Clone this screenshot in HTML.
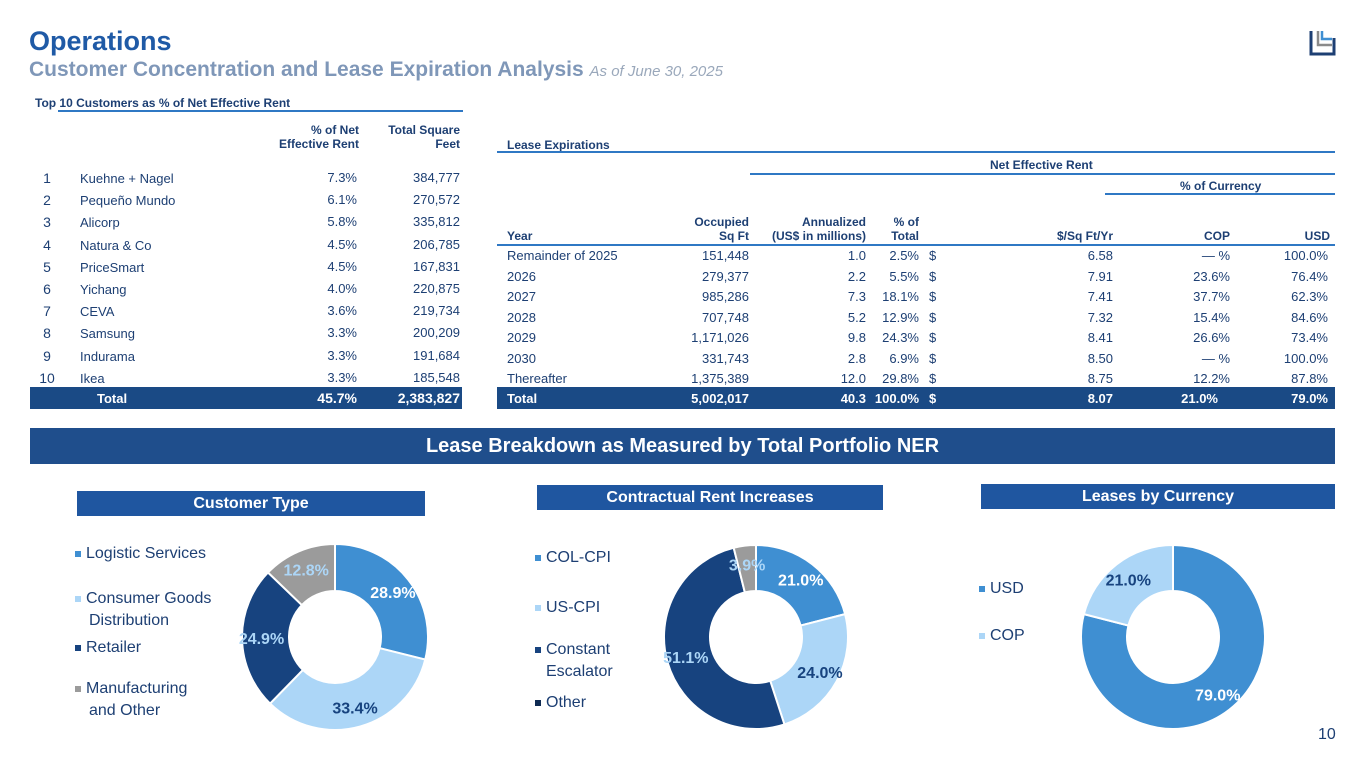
<!DOCTYPE html>
<html><head><meta charset="utf-8"><style>
*{margin:0;padding:0;box-sizing:border-box}
body{width:1365px;height:768px;background:#fff;position:relative;overflow:hidden;font-family:"Liberation Sans",Arial,sans-serif;color:#1d3f73}
.a{position:absolute;white-space:nowrap}
.r{text-align:right}
.t{font-size:13px;color:#1d3f73}
.h{font-size:12px;font-weight:bold;color:#1d3f73;line-height:14px}
.ln{position:absolute;height:2px;background:#2f78c4}
.bar{position:absolute;background:#1a4a85}
.w{color:#fff;font-weight:bold}
.sub{position:absolute;background:#1f56a0;color:#fff;font-weight:bold;font-size:16px;text-align:center;line-height:25px}
.lg{font-size:16px;color:#1d3f73;line-height:22px}
.sq{display:inline-block;width:6px;height:6px;margin-right:5px;vertical-align:middle}
</style></head><body>
<div class="a" style="left:29px;top:26px;font-size:27px;font-weight:bold;color:#1f5aa6">Operations</div>
<div class="a" style="left:29px;top:58px;font-size:21px;font-weight:bold;color:#7f97b8">Customer Concentration and Lease Expiration Analysis <span style="font-size:15px;font-style:italic;font-weight:normal;color:#9aa8bb">As of June 30, 2025</span></div>
<svg class="a" style="left:1308px;top:27px" width="30" height="30"><path d="M3 4v23h23V11" fill="none" stroke="#1d3f73" stroke-width="3"/><path d="M10 4v14h14" fill="none" stroke="#8a8a8a" stroke-width="2.5"/><path d="M14 4v8h10" fill="none" stroke="#3f8fd2" stroke-width="2.5"/></svg>

<!-- Top 10 customers table -->
<div>
<div class="a h" style="left:35px;top:96px">Top 10 Customers as % of Net Effective Rent</div>
<div class="ln" style="left:58px;top:110px;width:405px"></div>
<div class="a h r" style="left:250px;top:123px;width:109px">% of Net<br>Effective Rent</div>
<div class="a h r" style="left:360px;top:123px;width:100px">Total Square<br>Feet</div>
<div id="custRows"></div>
<div class="bar" style="left:30px;top:387px;width:432px;height:22px"></div>
<div class="a w" style="left:97px;top:391px;font-size:13px">Total</div>
<div class="a w r" style="left:257px;top:390px;width:100px;font-size:14px">45.7%</div>
<div class="a w r" style="left:360px;top:390px;width:100px;font-size:14px">2,383,827</div>
</div>

<!-- Lease expirations -->
<div>
<div class="a h" style="left:507px;top:138px">Lease Expirations</div>
<div class="ln" style="left:497px;top:151px;width:838px"></div>
<div class="a h" style="left:990px;top:158px">Net Effective Rent</div>
<div class="ln" style="left:750px;top:173px;width:585px"></div>
<div class="a h" style="left:1180px;top:179px">% of Currency</div>
<div class="ln" style="left:1105px;top:193px;width:230px"></div>
<div class="a h" style="left:507px;top:229px">Year</div>
<div class="a h r" style="left:649px;top:215px;width:100px">Occupied<br>Sq Ft</div>
<div class="a h r" style="left:746px;top:215px;width:120px">Annualized<br>(US$ in millions)</div>
<div class="a h r" style="left:819px;top:215px;width:100px">% of<br>Total</div>
<div class="a h r" style="left:1013px;top:229px;width:100px">$/Sq Ft/Yr</div>
<div class="a h r" style="left:1130px;top:229px;width:100px">COP</div>
<div class="a h r" style="left:1230px;top:229px;width:100px">USD</div>
<div class="ln" style="left:497px;top:244px;width:838px"></div>
<div id="leaseRows"></div>
<div class="bar" style="left:497px;top:387px;width:838px;height:22px"></div>
<div class="a w" style="left:507px;top:391px;font-size:13px">Total</div>
<div class="a w r" style="left:649px;top:391px;width:100px;font-size:13px">5,002,017</div>
<div class="a w r" style="left:766px;top:391px;width:100px;font-size:13px">40.3</div>
<div class="a w r" style="left:819px;top:391px;width:100px;font-size:13px">100.0%</div>
<div class="a w" style="left:929px;top:391px;font-size:13px">$</div>
<div class="a w r" style="left:1013px;top:391px;width:100px;font-size:13px">8.07</div>
<div class="a w r" style="left:1118px;top:391px;width:100px;font-size:13px">21.0%</div>
<div class="a w r" style="left:1228px;top:391px;width:100px;font-size:13px">79.0%</div>
</div>

<div class="a" style="left:30px;top:428px;width:1305px;height:36px;background:#1f4e8c;color:#fff;font-weight:bold;font-size:20px;text-align:center;line-height:36px">Lease Breakdown as Measured by Total Portfolio NER</div>

<div class="sub" style="left:77px;top:491px;width:348px">Customer Type</div>
<div class="sub" style="left:537px;top:485px;width:346px">Contractual Rent Increases</div>
<div class="sub" style="left:981px;top:484px;width:354px">Leases by Currency</div>

<div class="a lg" style="left:75px;top:543px"><span class="sq" style="background:#3f8fd2"></span>Logistic Services</div>
<div class="a lg" style="left:75px;top:588px"><span class="sq" style="background:#acd6f7"></span>Consumer Goods<br><span style="margin-left:14px">Distribution</span></div>
<div class="a lg" style="left:75px;top:637px"><span class="sq" style="background:#17437f"></span>Retailer</div>
<div class="a lg" style="left:75px;top:678px"><span class="sq" style="background:#9b9b9b"></span>Manufacturing<br><span style="margin-left:14px">and Other</span></div>

<div class="a lg" style="left:535px;top:547px"><span class="sq" style="background:#3f8fd2"></span>COL-CPI</div>
<div class="a lg" style="left:535px;top:597px"><span class="sq" style="background:#acd6f7"></span>US-CPI</div>
<div class="a lg" style="left:535px;top:639px"><span class="sq" style="background:#17437f"></span>Constant<br><span style="margin-left:11px">Escalator</span></div>
<div class="a lg" style="left:535px;top:692px"><span class="sq" style="background:#0f2a52"></span>Other</div>

<div class="a lg" style="left:979px;top:578px"><span class="sq" style="background:#3f8fd2"></span>USD</div>
<div class="a lg" style="left:979px;top:625px"><span class="sq" style="background:#acd6f7"></span>COP</div>

<svg class="a" id="donuts" style="left:0;top:0" width="1365" height="768"></svg>
<div class="a" style="left:1318px;top:726px;font-size:16px;color:#1d3f73">10</div>

<script>
const custNames=["Kuehne + Nagel","Pequeño Mundo","Alicorp","Natura & Co","PriceSmart","Yichang","CEVA","Samsung","Indurama","Ikea"];
const custPct=["7.3%","6.1%","5.8%","4.5%","4.5%","4.0%","3.6%","3.3%","3.3%","3.3%"];
const custSqft=["384,777","270,572","335,812","206,785","167,831","220,875","219,734","200,209","191,684","185,548"];
const leaseYears=["Remainder of 2025","2026","2027","2028","2029","2030","Thereafter"];
const leaseSqft=["151,448","279,377","985,286","707,748","1,171,026","331,743","1,375,389"];
const leaseAnn=["1.0","2.2","7.3","5.2","9.8","2.8","12.0"];
const leasePct=["2.5%","5.5%","18.1%","12.9%","24.3%","6.9%","29.8%"];
const leaseRate=["6.58","7.91","7.41","7.32","8.41","8.50","8.75"];
const leaseCop=["— %","23.6%","37.7%","15.4%","26.6%","— %","12.2%"];
const leaseUsd=["100.0%","76.4%","62.3%","84.6%","73.4%","100.0%","87.8%"];
const custTypeVals=[28.9,33.4,24.9,12.8];
const rentIncVals=[21.0,24.0,51.1,3.9];
const currencyVals=[79.0,21.0];

function cell(parent,name,txt,left,top,w,right,cls){
  const d=document.createElement('div');
  
  
  d.className='a t'+(right?' r':'');
  d.style.left=left+'px';d.style.top=top+'px';
  if(w)d.style.width=w+'px';
  d.textContent=txt;parent.appendChild(d);
}
const cr=document.getElementById('custRows');
custNames.forEach((n,i)=>{
  const y=170+i*22.2;
  cell(cr,'customer-rank',String(i+1),32,y,30,false);
  cr.lastChild.style.textAlign='center';cr.lastChild.style.fontSize='14px';
  cell(cr,'customer-name',n,80,y+1,0,false);
  cell(cr,'customer-pct',custPct[i],257,y,100,true);
  cell(cr,'customer-sqft',custSqft[i],360,y,100,true);
});
const lr=document.getElementById('leaseRows');
leaseYears.forEach((yr,i)=>{
  const y=248+i*20.5;
  cell(lr,'lease-year',yr,507,y,0,false);
  cell(lr,'lease-sqft',leaseSqft[i],649,y,100,true);
  cell(lr,'lease-annualized',leaseAnn[i],766,y,100,true);
  cell(lr,'lease-pct-total',leasePct[i],819,y,100,true);
  cell(lr,'lease-dollar',"$",929,y,0,false);
  cell(lr,'lease-rate',leaseRate[i],1013,y,100,true);
  cell(lr,'lease-cop',leaseCop[i],1130,y,100,true);
  cell(lr,'lease-usd',leaseUsd[i],1228,y,100,true);
});

const NS='http://www.w3.org/2000/svg';
const svg=document.getElementById('donuts');
function donut(cx,cy,R,r,vals,colors,labelColors,name){
  const total=vals.reduce((a,b)=>a+b,0);
  let a0=0;
  vals.forEach((v,i)=>{
    const a1=a0+v/total*2*Math.PI;
    const p=(a,rad)=>[cx+rad*Math.sin(a),cy-rad*Math.cos(a)];
    const [x1,y1]=p(a0,R),[x2,y2]=p(a1,R),[x3,y3]=p(a1,r),[x4,y4]=p(a0,r);
    const lg=(a1-a0)>Math.PI?1:0;
    const path=document.createElementNS(NS,'path');
    path.setAttribute('d',`M${x1},${y1}A${R},${R} 0 ${lg} 1 ${x2},${y2}L${x3},${y3}A${r},${r} 0 ${lg} 0 ${x4},${y4}Z`);
    path.setAttribute('fill',colors[i]);
    path.setAttribute('stroke','#fff');path.setAttribute('stroke-width','2');
    
    
    svg.appendChild(path);
    const m=(a0+a1)/2,[lx,ly]=p(m,(R+r)/2+4);
    const t=document.createElementNS(NS,'text');
    t.setAttribute('x',lx);t.setAttribute('y',ly+6);
    t.setAttribute('text-anchor','middle');
    t.setAttribute('font-family','Liberation Sans, Arial, sans-serif');
    t.setAttribute('font-size','16');t.setAttribute('font-weight','bold');
    t.setAttribute('fill',labelColors[i]);
    
    
    t.textContent=v.toFixed(1)+'%';
    svg.appendChild(t);
    a0=a1;
  });
}
donut(335,637,93,46,custTypeVals,['#3f8fd2','#acd6f7','#17437f','#9b9b9b'],['#fff','#17437f','#acd6f7','#acd6f7'],'customer-type');
donut(756,637,92,46,rentIncVals,['#3f8fd2','#acd6f7','#17437f','#9b9b9b'],['#fff','#17437f','#acd6f7','#acd6f7'],'rent-increase');
donut(1173,637,92,46,currencyVals,['#3f8fd2','#acd6f7'],['#fff','#17437f'],'currency');
</script>
</body></html>
